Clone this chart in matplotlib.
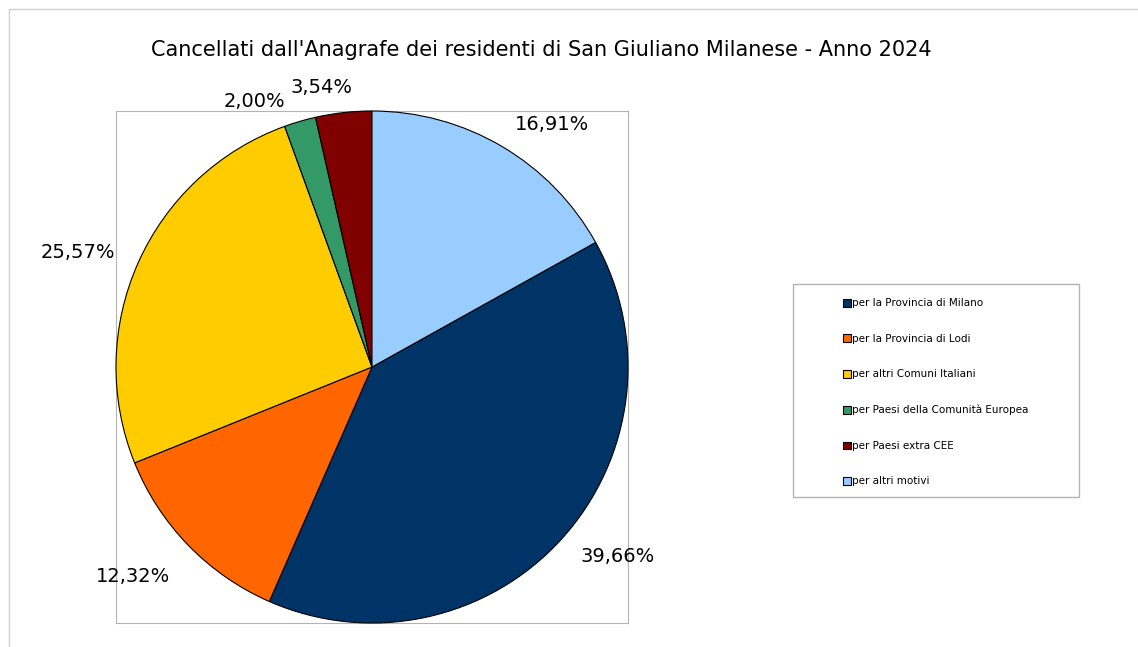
import matplotlib
matplotlib.use('Agg')
import matplotlib.pyplot as plt
from matplotlib.patches import Rectangle

# --- dati ---
categorie = ['per la Provincia di Milano', 'per la Provincia di Lodi',
             'per altri Comuni Italiani', 'per Paesi della Comunità Europea',
             'per Paesi extra CEE', 'per altri motivi']
percentuali = [39.66, 12.32, 25.57, 2.00, 3.54, 16.91]
colori = ['#003366', '#FF6600', '#FFCC00', '#339966', '#800000', '#99CCFF']
titolo = "Cancellati dall'Anagrafe dei residenti di San Giuliano Milanese - Anno 2024"

W, H = 1138, 647
fig = plt.figure(figsize=(W / 100, H / 100), dpi=100)

# cornice esterna grigia
fig.patches.append(Rectangle((9 / W, -0.1), 1.2, 1 - 9 / H + 0.1, transform=fig.transFigure,
                             fill=False, edgecolor='#d0d0d0', lw=1))

ax = fig.add_axes([116 / W, (H - 623) / H, 512 / W, 512 / H])
etichette = [f"{p:.2f}%".replace('.', ',') for p in percentuali]
start = 90 - percentuali[-1] / sum(percentuali) * 360
wedges, texts = ax.pie(percentuali, colors=colori, startangle=start, counterclock=False,
                       labels=etichette, labeldistance=1.1,
                       wedgeprops=dict(edgecolor='black', linewidth=0.8),
                       textprops=dict(fontsize=14, color='black'))
ax.set_xlim(-1, 1)
ax.set_ylim(-1, 1)
ax.set_frame_on(True)
ax.set_xticks([])
ax.set_yticks([])
for s in ax.spines.values():
    s.set_color('#b3b3b3')
    s.set_zorder(0)

# piccoli spostamenti delle etichette per evitare sovrapposizioni
x, y = texts[1].get_position()
texts[1].set_position((x, y - 0.05))
x, y = texts[3].get_position()
texts[3].set_position((x - 0.03, y - 0.02))
x, y = texts[4].get_position()
texts[4].set_position((x + 0.045, y))

fig.text(541 / W, 1 - 50 / H, titolo, ha='center', va='center', fontsize=15)

# legenda
fig.patches.append(Rectangle((793 / W, (H - 497) / H), 286 / W, 213 / H, transform=fig.transFigure,
                             fill=False, edgecolor='#b3b3b3', lw=1))
leg = fig.legend(wedges, categorie, loc='upper left', bbox_to_anchor=(834 / W, 1 - 289 / H),
                 frameon=False, fontsize=7.5, handlelength=0.75, handleheight=0.75,
                 handletextpad=0.1, labelspacing=2.45)
for h in leg.legend_handles:
    h.set_edgecolor('black')
    h.set_linewidth(0.8)

fig.savefig('out.png', dpi=100)
